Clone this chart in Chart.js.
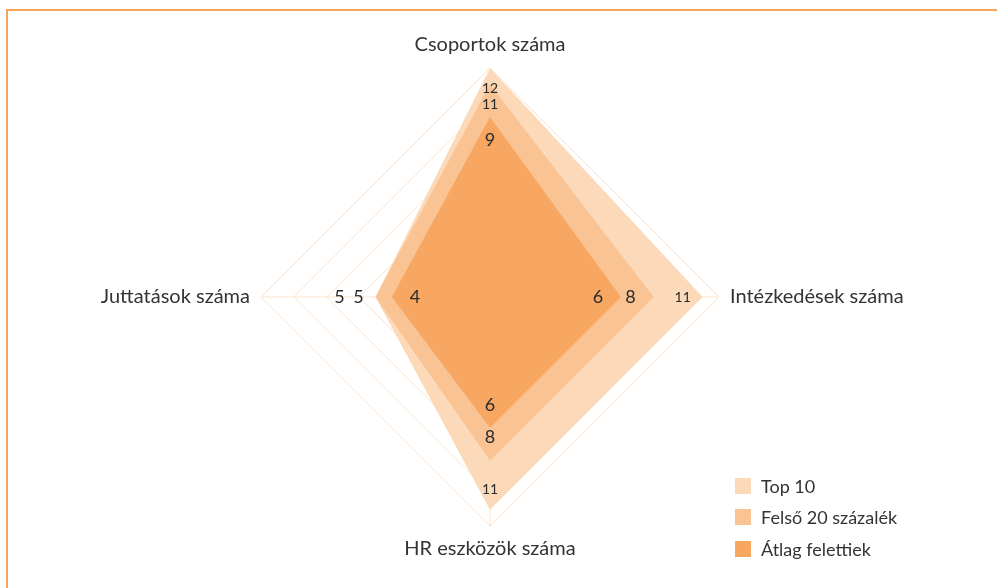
<!DOCTYPE html>
<html>
<head>
<meta charset="utf-8">
<script src="https://cdn.jsdelivr.net/npm/chart.js@4.4.1/dist/chart.umd.min.js"></script>
<style>
  body { margin: 0; background: #fff; }
  .wrap { position: relative; width: 997px; height: 588px; overflow: hidden; }
  .frame { position: absolute; left: 6px; top: 9px; width: 1000px; height: 600px;
           border-top: 2px solid #F7A35C; border-left: 2px solid #F7A35C; }
  .chart-container { position: absolute; left: 0; top: 0; width: 997px; height: 588px; }
  .legend { position: absolute; left: 735px; top: 470px; font-family: Lato, sans-serif;
            font-size: 18px; color: #333; }
  .legend div { height: 31.5px; display: flex; align-items: center; }
  .legend span.box { width: 16px; height: 16px; margin-right: 10px; display: inline-block; }
</style>
</head>
<body>
<div class="wrap">
  <div class="frame"></div>
  <div class="chart-container">
    <canvas id="rChart"></canvas>
  </div>
  <div class="legend" id="legend"></div>
</div>

<script type="text/javascript">
    const labels = ["Csoportok száma", "Intézkedések száma", "HR eszközök száma", "Juttatások száma"];
    const seriesNames = ["Top 10", "Felső 20 százalék", "Átlag felettiek"];
    const top10 = [12, 11, 11, 5];
    const felso20 = [11, 8, 8, 5];
    const atlag = [9, 6, 6, 4];
    const colors = ["#FCD9B8", "#F9C394", "#F7A762"];

    // the two "5" labels on the left sit outside the shape, side by side
    const shift = {
      "0-3": -36,
      "1-3": -17
    };

    const valueLabels = {
      id: "valueLabels",
      afterDatasetsDraw(chart) {
        const c = chart.ctx;
        const sc = chart.scales.r;
        c.save();
        c.fillStyle = "#2b2b2b";
        c.textAlign = "center";
        c.textBaseline = "middle";
        chart.data.datasets.forEach((ds, di) => {
          const meta = chart.getDatasetMeta(di);
          meta.data.forEach((pt, i) => {
            const v = ds.data[i];
            const dx = sc.xCenter - pt.x, dy = sc.yCenter - pt.y;
            const len = Math.sqrt(dx * dx + dy * dy) || 1;
            let d = v >= 10 ? 20 : 23;
            if (shift[di + "-" + i] !== undefined) d = shift[di + "-" + i];
            c.font = (v >= 10 ? "14px" : "18px") + " Lato, sans-serif";
            c.fillText(String(v), pt.x + dx / len * d, pt.y + dy / len * d);
          });
        });
        c.restore();
      }
    };

    const ctx = document.getElementById("rChart").getContext("2d");
    const rChart = new Chart(ctx, {
      type: "radar",
      data: {
        labels: labels,
        datasets: [
          { label: seriesNames[0], data: top10, backgroundColor: colors[0], order: 3 },
          { label: seriesNames[1], data: felso20, backgroundColor: colors[1], order: 2 },
          { label: seriesNames[2], data: atlag, backgroundColor: colors[2], order: 1 }
        ]
      },
      options: {
        responsive: true,
        maintainAspectRatio: false,
        animation: false,
        layout: { padding: { top: 33, bottom: 27, left: 0, right: 16 } },
        elements: {
          line: { borderWidth: 0, fill: "start", tension: 0 },
          point: { radius: 0, hoverRadius: 0 }
        },
        plugins: {
          legend: { display: false },
          tooltip: { enabled: false }
        },
        scales: {
          r: {
            min: -2,
            max: 12,
            ticks: { display: false, stepSize: 2 },
            grid: { color: "#FDE3CC", lineWidth: 1 },
            angleLines: { color: "#FDE3CC", lineWidth: 1 },
            pointLabels: {
              color: "#333",
              padding: 11,
              font: { family: "Lato, sans-serif", size: 20 }
            }
          }
        }
      },
      plugins: [valueLabels]
    });

    const lg = document.getElementById("legend");
    seriesNames.forEach((n, i) => {
      const row = document.createElement("div");
      row.innerHTML = '<span class="box" style="background:' + colors[i] + '"></span>' + n;
      lg.appendChild(row);
    });
</script>
</body>
</html>
